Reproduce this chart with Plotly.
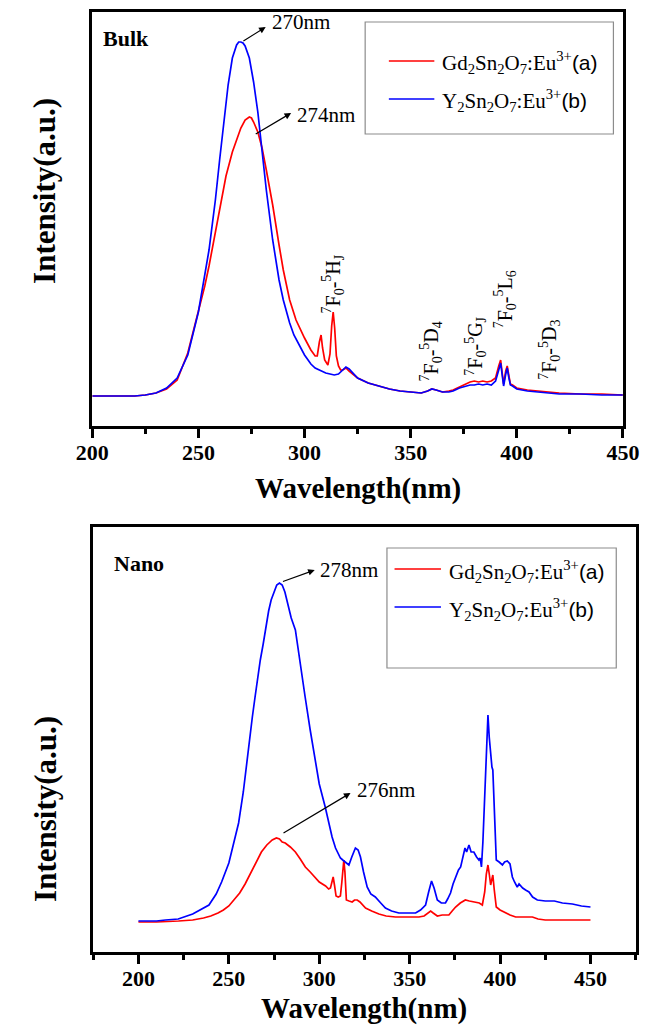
import plotly.graph_objects as go

# ---------------- data (arbitrary units) ----------------
bulk_gd_nm = [200, 210, 220, 225, 230, 235, 240, 245, 250, 253, 255, 258, 260, 263, 266, 268, 270, 272, 274, 275, 276, 278, 280,
              282, 285, 288, 290, 293, 296, 300, 303, 305, 306, 307, 307.8, 308.5, 309.5, 311, 312, 312.8, 313.5, 314.2, 315, 316,
              317, 318, 319.5, 321, 323, 325, 328, 330, 335, 340, 345, 350, 355, 358, 360, 362, 365, 368, 370, 373, 376, 378,
              380, 382, 384, 386, 388, 390, 391.5, 392.4, 393.2, 393.8, 394.8, 395.5, 396.3, 397, 398, 400, 405, 410, 415, 420,
              430, 440, 450]
bulk_gd_int = [30, 30, 30, 31, 33, 37, 46, 73, 115, 140, 160, 195, 218, 250, 274, 287, 298, 306, 309, 308, 304, 294, 278,
               256, 221, 181, 156, 126, 106, 88, 76, 70, 70, 84, 91, 78, 66, 61, 72, 100, 114, 98, 70, 60,
               56, 56, 58, 55, 51, 48, 45, 43, 40, 37, 35, 34, 33, 35, 37, 36, 34, 35, 36, 39, 42, 44,
               45, 44, 45, 44, 45, 48, 60, 66, 52, 42, 55, 60, 50, 42, 41, 38, 36, 35, 34, 33,
               32, 32, 31]

bulk_y_nm = [200, 210, 220, 225, 230, 235, 240, 245, 250, 255, 258, 260, 262, 264, 266, 268, 269, 270, 271, 272, 274, 276,
             278, 280, 282, 285, 288, 290, 293, 295, 298, 300, 303, 305, 308, 310, 312, 314, 316, 318, 319.5, 321, 323, 325,
             328, 330, 335, 340, 345, 350, 355, 358, 360, 362, 365, 368, 370, 373, 376, 378, 380, 382, 384, 386, 388, 390,
             391.5, 392.4, 393.2, 393.8, 394.8, 395.5, 396.3, 397, 398, 400, 405, 410, 415, 420, 430, 440, 450]
bulk_y_int = [30, 30, 30, 31, 33, 38, 48, 71, 114, 176, 226, 266, 306, 341, 368, 381, 384, 384, 383, 380, 368, 344,
              314, 276, 236, 186, 146, 126, 103, 91, 78, 71, 62, 58, 55, 53, 52, 51, 52, 56, 59, 57, 52, 48,
              45, 43, 40, 37, 35, 34, 33, 35, 37, 36, 34, 34, 35, 38, 40, 41, 41, 42, 41, 42, 41, 45,
              56, 63, 50, 40, 52, 58, 48, 41, 40, 37, 35, 34, 33, 32, 32, 31, 31]

nano_gd_nm = [200, 210, 222.2, 230, 236, 240, 244, 247, 250, 253, 256, 259, 262, 265, 268, 271, 274, 276.3, 278, 279.5, 281.2,
              284, 286.8, 289.5, 292.3, 295, 297.9, 300, 303.5, 305.2, 306.2, 307, 307.7, 308.5, 309.3, 310.5, 311.7, 312.5,
              313.1, 313.6, 314.2, 315, 316.5, 318.2, 319.5, 321, 322.5, 325.6, 329, 333, 337, 342.2, 348, 355.1, 358,
              360.5, 361.6, 363, 365.3, 368, 371.7, 373.5, 375.4, 378, 380.8, 383, 386.5, 388.5, 390.2, 391.5, 392.4,
              393.3, 394.1, 394.8, 395.5, 396, 396.8, 397.9, 400, 403.1, 405.5, 408.6, 412, 417.9, 421, 425, 435, 450]
nano_gd_int = [30, 30, 31, 32, 34, 36, 39, 42, 46, 52, 59, 68, 79, 90, 100, 107, 112, 114, 113, 110, 109,
               105, 100, 93, 85, 80, 74, 70, 66, 63, 64, 70, 75, 66, 56, 55, 56, 70,
               88, 92, 80, 52, 51, 50, 52, 52, 50, 44, 41, 38, 36, 35, 35, 35, 36,
               39, 41, 39, 36, 37, 37, 41, 45, 49, 52, 51, 50, 49, 47, 60, 78,
               87, 77, 67, 73, 77, 62, 45, 42, 39, 37, 35, 35, 35, 33, 32, 32, 32]

nano_y_nm = [200, 210, 215, 222, 230, 235, 239, 243, 246, 250, 253, 255.4, 258, 260.8, 263, 264.5, 266, 267.4, 269, 270.2,
             272, 273.4, 275, 276.5, 278, 279.5, 281, 283, 284.5, 286.8, 289, 292.2, 295, 297.9, 300, 303.3, 305, 307.1,
             309, 311.7, 313, 314.5, 316.4, 318, 320, 321.5, 322.8, 324.5, 326.5, 328.5, 331, 334, 336.6, 340, 344, 348,
             353.3, 356, 358.8, 360.5, 362.1, 363.5, 365.3, 367.5, 369.8, 371, 372.6, 374, 375.4, 377, 378.2, 379.5,
             380.6, 381.5, 382.8, 384, 385.5, 387, 388.3, 389, 389.7, 390.5, 391.3, 392, 392.7, 393.3, 394, 394.8, 395.5,
             396, 396.8, 397.9, 399.5, 401.3, 402.5, 404, 405.5, 406.8, 408, 409.5, 410.5, 411.4, 412.5, 414.1, 416, 418,
             420.6, 425, 430, 434.5, 440, 445, 450]
nano_y_int = [31, 31, 32, 33, 38, 43, 47, 58, 70, 89, 110, 129, 160, 205, 235, 255, 275, 292, 308, 322,
              341, 352, 361, 367, 369, 367, 360, 345, 334, 322, 293, 255, 222, 189, 168, 145, 130, 115,
              104, 94, 92, 90, 87, 95, 104, 102, 95, 80, 65, 58, 55, 49, 44, 41, 39, 39,
              39, 42, 47, 60, 71, 64, 52, 49, 49, 53, 59, 68, 75, 82, 85, 95,
              104, 100, 107, 100, 100, 95, 92, 94, 85, 110, 150, 172, 220, 237, 215, 195, 185,
              182, 150, 92, 90, 87, 90, 91, 88, 75, 70, 65, 68, 66, 64, 62, 60, 55,
              52, 51, 51, 49, 48, 46, 45]

names = ["Gd<sub>2</sub>Sn<sub>2</sub>O<sub>7</sub>:Eu<sup>3+</sup>",
         "Y<sub>2</sub>Sn<sub>2</sub>O<sub>7</sub>:Eu<sup>3+</sup>"]
tags = ["(a)", "(b)"]
panel_labels = ["Bulk", "Nano"]
x_ticks = [200, 250, 300, 350, 400, 450]
transitions = [("<sup>7</sup>F<sub>0</sub>-<sup>5</sup>H<sub>J</sub>", 313.4, 111),
               ("<sup>7</sup>F<sub>0</sub>-<sup>5</sup>D<sub>4</sub>", 359.8, 43),
               ("<sup>7</sup>F<sub>0</sub>-<sup>5</sup>G<sub>J</sub>", 380.4, 48),
               ("<sup>7</sup>F<sub>0</sub>-<sup>5</sup>L<sub>6</sub>", 394.6, 96),
               ("<sup>7</sup>F<sub>0</sub>-<sup>5</sup>D<sub>3</sub>", 415.6, 44)]

RED = "#ff0000"
BLUE = "#0000ff"
PAGE_MARGIN = 8                      # default body margin of the html page
W, H = 656 - PAGE_MARGIN, 1025 - PAGE_MARGIN
SERIF = "Liberation Serif, Times New Roman, serif"


def sx(x):
    """screen x pixel -> paper fraction"""
    return (x - PAGE_MARGIN) / W


def sy(y):
    """screen y pixel -> paper fraction"""
    return 1 - (y - PAGE_MARGIN) / H


fig = go.Figure()
fig.add_trace(go.Scatter(x=bulk_gd_nm, y=bulk_gd_int, mode="lines", line=dict(color=RED, width=1.7),
                         xaxis="x", yaxis="y", showlegend=False))
fig.add_trace(go.Scatter(x=bulk_y_nm, y=bulk_y_int, mode="lines", line=dict(color=BLUE, width=1.7),
                         xaxis="x", yaxis="y", showlegend=False))
fig.add_trace(go.Scatter(x=nano_gd_nm, y=nano_gd_int, mode="lines", line=dict(color=RED, width=1.7),
                         xaxis="x2", yaxis="y2", showlegend=False))
fig.add_trace(go.Scatter(x=nano_y_nm, y=nano_y_int, mode="lines", line=dict(color=BLUE, width=1.7),
                         xaxis="x2", yaxis="y2", showlegend=False))

xcommon = dict(showline=True, linewidth=2.5, linecolor="black", mirror=True, ticks="outside", ticklen=9,
               tickwidth=2.5, tickcolor="black", tickvals=x_ticks, showgrid=False, zeroline=False,
               ticklabelstandoff=-4,
               tickfont=dict(family=SERIF, size=22, color="black", weight="bold"))
ycommon = dict(showline=True, linewidth=2.5, linecolor="black", mirror=True, ticks="", showticklabels=False,
               showgrid=False, zeroline=False)

fig.update_layout(
    width=W, height=H, margin=dict(l=0, r=0, t=0, b=0),
    paper_bgcolor="white", plot_bgcolor="white", showlegend=False,
    xaxis=dict(domain=[sx(79), sx(639)], range=[200, 450], anchor="y",
               minor=dict(dtick=25, tick0=200, ticks="outside", ticklen=5, tickwidth=2.5, tickcolor="black",
                          showgrid=False), **xcommon),
    yaxis=dict(domain=[sy(426), sy(12)], range=[0, 414], anchor="x", **ycommon),
    xaxis2=dict(domain=[sx(80), sx(652.5)], range=[175, 475], anchor="y2",
                minor=dict(dtick=25, tick0=175, ticks="outside", ticklen=5, tickwidth=2.5, tickcolor="black",
                           showgrid=False), **xcommon),
    yaxis2=dict(domain=[sy(952), sy(527)], range=[0, 425], anchor="x2", **ycommon),
)

ann = []
shapes = []

# axis titles
for cx, cy in [(359, 488), (366, 1008)]:
    ann.append(dict(text="Wavelength(nm)", x=sx(cx), y=sy(cy), xref="paper", yref="paper", showarrow=False,
                    xanchor="center", yanchor="middle",
                    font=dict(family=SERIF, size=29, color="black", weight="bold")))
for cy in [191, 809]:
    ann.append(dict(text="Intensity(a.u.)", x=sx(29), y=sy(cy), xref="paper", yref="paper", showarrow=False,
                    xanchor="center", yanchor="middle", textangle=-90,
                    font=dict(family=SERIF, size=31, color="black", weight="bold")))

# panel labels
for lab, (lx, ly) in zip(panel_labels, [(88, 39), (100, 563)]):
    ann.append(dict(text=lab, x=sx(lx), y=sy(ly), xref="paper", yref="paper", showarrow=False,
                    xanchor="left", yanchor="middle",
                    font=dict(family=SERIF, size=22, color="black", weight="bold")))

# legends (drawn boxes): box, line start, line end, text start, row y's
legend_boxes = [((367, 22, 629, 134), (392, 440, 446), (61, 99)),
                ((390, 548, 632, 668), (398, 447, 453), (569, 607))]
for (x0, y0, x1, y1), (l0, l1, t0), rows in legend_boxes:
    shapes.append(dict(type="rect", xref="paper", yref="paper", x0=sx(x0), x1=sx(x1), y0=sy(y0), y1=sy(y1),
                       line=dict(color="#8c8c8c", width=1.2), fillcolor="rgba(0,0,0,0)"))
    for nm, tg, col, ry in zip(names, tags, [RED, BLUE], rows):
        shapes.append(dict(type="line", xref="paper", yref="paper", x0=sx(l0), x1=sx(l1),
                           y0=sy(ry), y1=sy(ry), line=dict(color=col, width=1.7)))
        ann.append(dict(text=nm + "<span style='font-family:Liberation Sans, Arial, sans-serif'>" + tg + "</span>",
                        x=sx(t0), y=sy(ry + 2), xref="paper", yref="paper", showarrow=False,
                        xanchor="left", yanchor="middle", font=dict(family=SERIF, size=21, color="black")))

# peak arrows and labels
peak_notes = [
    ("x", "y", "270nm", (270.5, 384), (281.7, 399), (283.5, 404)),
    ("x", "y", "274nm", (276.3, 291), (293.7, 313), (295.5, 311)),
    ("x2", "y2", "278nm", (279.1, 370), (297.5, 382), (299.2, 382)),
    ("x2", "y2", "276nm", (279.4, 118), (317.3, 159), (320.0, 162)),
]
for xr, yr, txt, tail, head, tpos in peak_notes:
    ann.append(dict(x=head[0], y=head[1], ax=tail[0], ay=tail[1], xref=xr, yref=yr, axref=xr, ayref=yr,
                    text="", showarrow=True, arrowhead=2, arrowsize=1.1, arrowwidth=1.2, arrowcolor="black",
                    standoff=0, startstandoff=0))
    ann.append(dict(x=tpos[0], y=tpos[1], xref=xr, yref=yr, text=txt, showarrow=False, xanchor="left",
                    yanchor="middle", font=dict(family=SERIF, size=21, color="black")))

# transition labels (top panel)
for txt, wl, ty in transitions:
    ann.append(dict(x=wl, y=ty, xref="x", yref="y", text=txt, showarrow=False, textangle=-90,
                    xanchor="center", yanchor="bottom", font=dict(family=SERIF, size=20, color="black")))

fig.update_layout(annotations=ann, shapes=shapes)
fig.write_html("out.html")
